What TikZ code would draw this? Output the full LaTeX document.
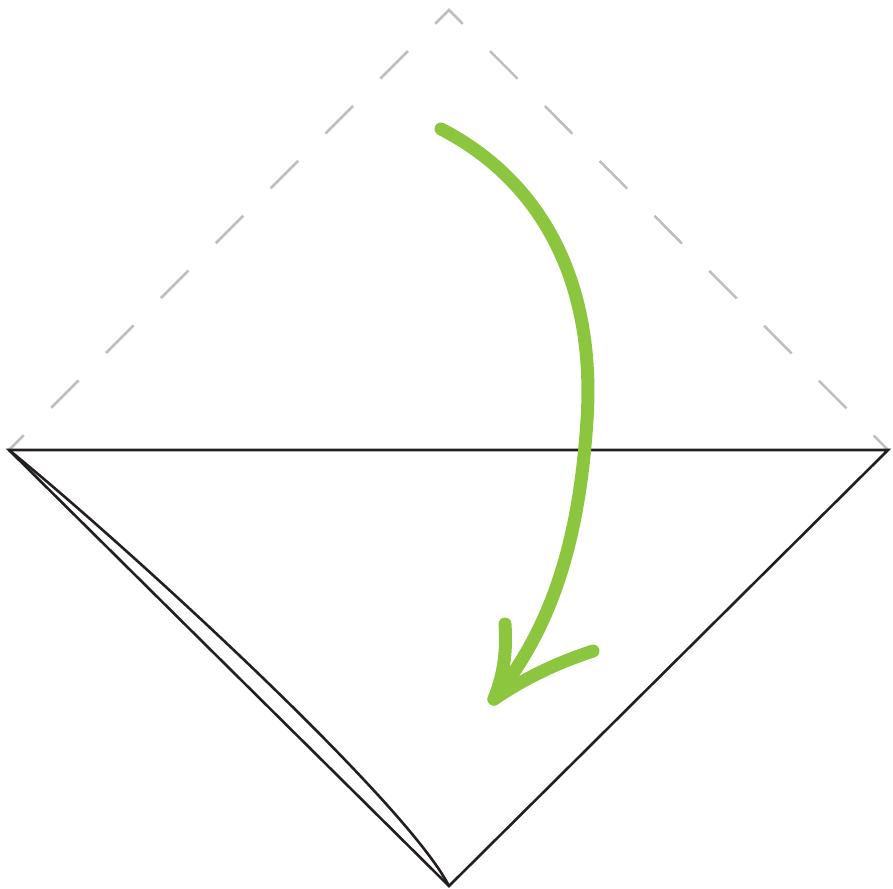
\documentclass[tikz,border=0pt]{standalone}
\definecolor{dashgray}{HTML}{BCBEC0}
\definecolor{arrowgreen}{HTML}{8CC63F}
\definecolor{edgeblack}{HTML}{231F20}
\tikzset{
  foldline/.style={draw=dashgray, line width=2.5pt, line join=miter, dash pattern=on 39pt off 38.6pt, dash phase=18pt},
  edgeline/.style={draw=edgeblack, line width=2.6pt, line join=miter},
  greenstroke/.style={draw=arrowgreen, line width=13pt, line cap=round, line join=round}
}
\begin{document}
\begin{tikzpicture}[x=1pt,y=-1pt]
\useasboundingbox (0,0) rectangle (893,888);
\coordinate (L) at (9,450);
\coordinate (R) at (888,450);
\coordinate (T) at (449,10);
\coordinate (B) at (449,886);
% dashed upper half
\draw[foldline] (L) -- (T) -- (R);
% solid lower triangle
\draw[edgeline] (L) -- (R) -- (B) -- cycle;
\draw[edgeline] (L) .. controls (120,540) and (405,800) .. (B);
% green arrow
\coordinate (A0) at (441,129);
\coordinate (A1) at (587,420);
\coordinate (A2) at (494,699);
\coordinate (H1) at (505,624);
\coordinate (H2) at (593,651);
\draw[greenstroke] (A0) .. controls (540,180) and (596,280) .. (A1)
  .. controls (579,545) and (550,630) .. (A2);
\draw[greenstroke] (H1) .. controls (507,655) and (503,676) .. (A2);
\draw[greenstroke] (H2) .. controls (560,662) and (530,675) .. (A2);
\end{tikzpicture}
\end{document}
